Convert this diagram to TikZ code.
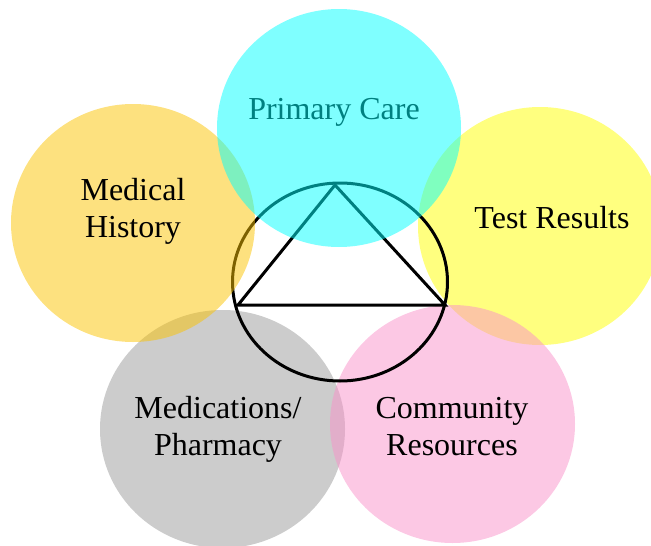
\documentclass[tikz,border=0pt]{standalone}
\usepackage{fontspec}
\setmainfont{Liberation Serif}
\usepackage{xcolor}
\usetikzlibrary{positioning}

\definecolor{histgold}{RGB}{251,195,0}
\definecolor{medsgray}{RGB}{153,153,153}
\definecolor{commpink}{RGB}{249,145,201}
\definecolor{resyellow}{RGB}{255,255,0}
\definecolor{primcyan}{RGB}{0,255,255}

\begin{document}
\begin{tikzpicture}[x=1pt, y=-1pt,
    bubble/.style={fill opacity=0.5},
    caption/.style={font=\fontsize{32}{37}\selectfont, align=center, inner sep=0pt}]
    \useasboundingbox (0,0) rectangle (651,546);

    % Circles under the centre figure
    \fill [resyellow, bubble] (540,226) ellipse [x radius=122pt, y radius=119pt];
    \fill [medsgray, bubble] (222.5,429) ellipse [x radius=122.5pt, y radius=119pt];
    \fill [commpink, bubble] (452.5,424) ellipse [x radius=122.5pt, y radius=119pt];

    % Label that the cyan circle covers
    \node [caption] (primary) at (334,112) {Primary Care};

    % Centre figure
    \draw [line width=3pt] (340,282) ellipse [x radius=107.5pt, y radius=99pt];
    \coordinate (apex) at (335,185);
    \coordinate (left) at (238,305);
    \coordinate (right) at (445,305);
    \draw [line width=3pt, line join=miter] (apex) -- (left) -- (right) -- cycle;

    % Circles over the centre figure
    \fill [histgold, bubble] (133,223) ellipse [x radius=122pt, y radius=119pt];
    \fill [primcyan, bubble] (339,128) ellipse [x radius=122pt, y radius=119pt];

    % Labels
    \node [caption] (history) at (133,211) {Medical\\History};
    \node [caption] (results) at (552,218) {Test Results};
    \node [caption] (meds) at (218,429) {Medications/\\Pharmacy};
    \node [caption] (community) at (452,427) {Community\\Resources};
\end{tikzpicture}
\end{document}
